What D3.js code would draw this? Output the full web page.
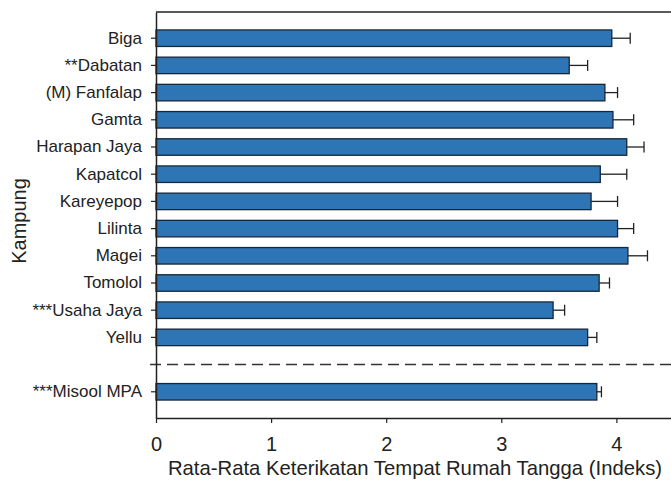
<!DOCTYPE html>
<html>
<head>
<meta charset="utf-8">
<script src="https://cdn.jsdelivr.net/npm/d3@7"></script>
<style>
  body { margin: 0; background: #fff; }
  svg text { font-family: "Liberation Sans", Arial, sans-serif; fill: #222; }
</style>
</head>
<body>
<div id="chart"></div>
<script>
// village means and one-sided error bars
const villages = ["Biga", "**Dabatan", "(M) Fanfalap", "Gamta", "Harapan Jaya", "Kapatcol",
  "Kareyepop", "Lilinta", "Magei", "Tomolol", "***Usaha Jaya", "Yellu"];
const villageMeans  = [3.96, 3.59, 3.90, 3.97, 4.09, 3.86, 3.78, 4.01, 4.10, 3.85, 3.45, 3.75];
const villageErrors = [0.16, 0.16, 0.11, 0.18, 0.15, 0.23, 0.23, 0.14, 0.17, 0.09, 0.10, 0.08];

const mpaLabels = ["***Misool MPA"];
const mpaMeans  = [3.83];
const mpaErrors = [0.04];

const xTicks = [0, 1, 2, 3, 4];
const xTitle = "Rata-Rata Keterikatan Tempat Rumah Tangga (Indeks)";
const yTitle = "Kampung";

const DIVIDER = "__divider__";

const width = 671, height = 480;
const plotLeft = 156, plotTop = 12, plotBottom = 418;

const rows = villages.map((v, i) => ({ label: v, mean: villageMeans[i], err: villageErrors[i] }))
  .concat(mpaLabels.map((v, i) => ({ label: v, mean: mpaMeans[i], err: mpaErrors[i] })));

const svg = d3.select("#chart").append("svg")
  .attr("width", width)
  .attr("height", height);

const x = d3.scaleLinear().domain([0, 4.5]).range([plotLeft, plotLeft + 4.5 * 115.1]);

const y = d3.scaleBand()
  .domain(villages.concat([DIVIDER], mpaLabels))
  .range([plotTop, plotBottom])
  .paddingInner(0.393)
  .paddingOuter(0.66);

/* ─── bars ─── */
svg.append("g")
  .selectAll("rect")
  .data(rows)
  .join("rect")
  .attr("x", x(0))
  .attr("y", d => y(d.label))
  .attr("width", d => x(d.mean) - x(0))
  .attr("height", y.bandwidth())
  .attr("fill", "#2e75b6")
  .attr("stroke", "#16273a")
  .attr("stroke-width", 1.3);

/* ─── error bars (right side only) ─── */
const eb = svg.append("g")
  .attr("stroke", "#222")
  .attr("stroke-width", 1.3);

eb.selectAll(".stem")
  .data(rows)
  .join("line")
  .attr("class", "stem")
  .attr("x1", d => x(d.mean))
  .attr("x2", d => x(d.mean + d.err))
  .attr("y1", d => y(d.label) + y.bandwidth() / 2)
  .attr("y2", d => y(d.label) + y.bandwidth() / 2);

eb.selectAll(".cap")
  .data(rows)
  .join("line")
  .attr("class", "cap")
  .attr("x1", d => x(d.mean + d.err))
  .attr("x2", d => x(d.mean + d.err))
  .attr("y1", d => y(d.label) + y.bandwidth() / 2 - 5.5)
  .attr("y2", d => y(d.label) + y.bandwidth() / 2 + 5.5);

/* ─── dashed divider between villages and MPA ─── */
const divY = y(DIVIDER) + y.bandwidth() / 2;
svg.append("line")
  .attr("x1", plotLeft - 6)
  .attr("x2", width)
  .attr("y1", divY)
  .attr("y2", divY)
  .attr("stroke", "#333")
  .attr("stroke-width", 1.5)
  .attr("stroke-dasharray", "11,6");

/* ─── axes ─── */
const yAxis = svg.append("g")
  .attr("transform", `translate(${plotLeft},0)`)
  .call(d3.axisLeft(y)
    .tickValues(villages.concat(mpaLabels))
    .tickSize(5)
    .tickSizeOuter(0)
    .tickPadding(9));

const xAxis = svg.append("g")
  .attr("transform", `translate(0,${plotBottom})`)
  .call(d3.axisBottom(x)
    .tickValues(xTicks)
    .tickFormat(d3.format("d"))
    .tickSize(5)
    .tickSizeOuter(0)
    .tickPadding(14));

yAxis.selectAll("text").style("font-size", "17px");
xAxis.selectAll("text").style("font-size", "20px");
[yAxis, xAxis].forEach(a => {
  a.select(".domain").attr("stroke", "#222").attr("stroke-width", 1.5);
  a.selectAll(".tick line").attr("stroke", "#222").attr("stroke-width", 1.2);
});

// top frame line
svg.append("line")
  .attr("x1", plotLeft)
  .attr("x2", x(4.5))
  .attr("y1", plotTop)
  .attr("y2", plotTop)
  .attr("stroke", "#222")
  .attr("stroke-width", 1.5);

/* ─── titles ─── */
svg.append("text")
  .attr("x", (x(0) + x(4.5)) / 2)
  .attr("y", 475)
  .attr("text-anchor", "middle")
  .style("font-size", "20.3px")
  .text(xTitle);

svg.append("text")
  .attr("transform", `translate(26,221) rotate(-90)`)
  .attr("text-anchor", "middle")
  .style("font-size", "20px")
  .text(yTitle);
</script>
</body>
</html>
